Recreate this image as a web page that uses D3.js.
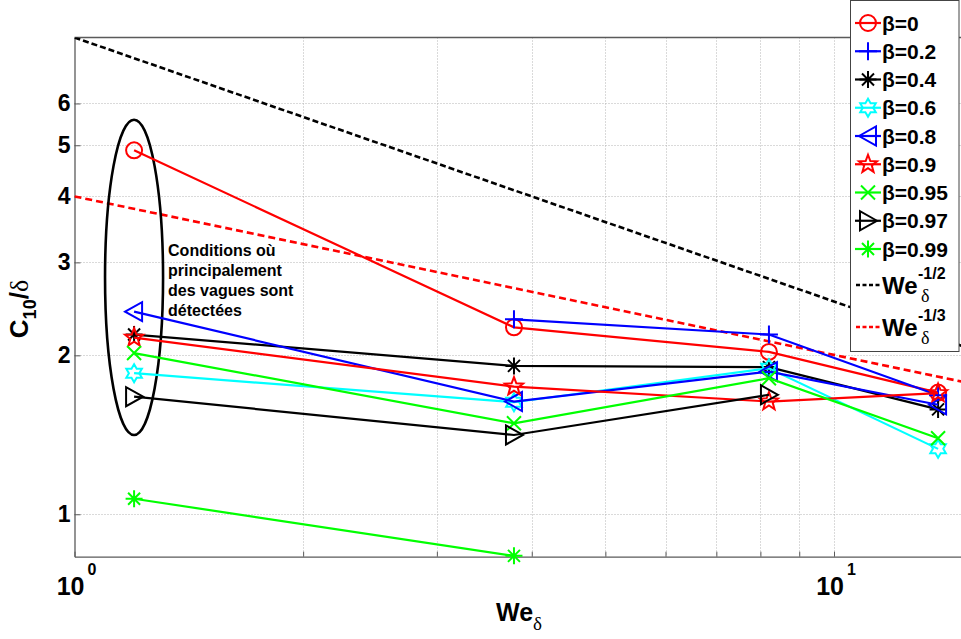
<!DOCTYPE html>
<html><head><meta charset="utf-8">
<script src="https://cdn.jsdelivr.net/npm/d3@7"></script>
<style>
body{margin:0;background:#fff;}
svg{display:block;font-family:"Liberation Sans",Arial,sans-serif;}
</style>
</head><body>
<svg id="chart" width="961" height="639"></svg>
<script>
// ---------------- data ----------------
const weValues = [1.198, 3.79, 8.21, 13.71];
const seriesLabels = ["β=0","β=0.2","β=0.4","β=0.6","β=0.8","β=0.9","β=0.95","β=0.97","β=0.99"];
const beta0    = [4.89, 2.26, 2.03, 1.70];
const beta02   = [null, 2.34, 2.19, 1.68];
const beta04   = [2.19, 1.91, 1.90, 1.58];
const beta06   = [1.85, 1.63, 1.89, 1.33];
const beta08   = [2.42, 1.635, 1.863, 1.612];
const beta09   = [2.16, 1.745, 1.635, 1.696];
const beta095  = [2.02, 1.487, 1.81, 1.393];
const beta097  = [1.67, 1.413, 1.684, null];
const beta099  = [1.07, 0.834, null, null];
const seriesValues = [beta0, beta02, beta04, beta06, beta08, beta09, beta095, beta097, beta099];

const refLabels = [{base:"We", sub:"δ", sup:"-1/2"}, {base:"We", sub:"δ", sup:"-1/3"}];
const refHalfX = [1, 16],  refHalfY = [8, 2.0];
const refThirdX = [1, 16], refThirdY = [4.0, 1.74];

const yTickValues = [1, 2, 3, 4, 5, 6];
const xGridValues = [2, 3, 4, 5, 6, 7, 8, 9, 10];
const xTickLabels = [{v:1, base:"10", exp:"0"}, {v:10, base:"10", exp:"1"}];

const ellipseX = [1.097, 1.308];
const ellipseY = [1.413, 5.59];
const annotationLines = ["Conditions où", "principalement", "des vagues sont", "détectées"];
const annotationAt = {x: 1.328, y: 3.08};

// ---------------- styles ----------------
const seriesColors = ["#ff0000","#0000ff","#000000","#00ffff","#0000ff","#ff0000","#00ff00","#000000","#00ff00"];
const seriesMarkers = ["circle","plus","asterisk","hexagram","triLeft","pentagram","x","triRight","asterisk"];
const refColors = ["#000000", "#ff0000"];

// ---------------- scales ----------------
const L = 74.5, T = 37.5, B = 556.7;
const x = d3.scaleLog().domain([1, 16]).range([L, L + 759.5 * Math.log10(16)]);
const y = d3.scaleLog().domain([0.831, 8]).range([B, T]);
const R = x.range()[1];

const svg = d3.select("#chart");
svg.append("defs").append("clipPath").attr("id","plotclip")
  .append("rect").attr("x", L).attr("y", T).attr("width", R - L).attr("height", B - T);

// grid
const grid = svg.append("g").attr("stroke", "#b4b4b4").attr("stroke-width", 1).attr("stroke-dasharray", "1,2");
grid.selectAll(".gy").data(yTickValues).join("line")
  .attr("x1", L).attr("x2", R).attr("y1", d => Math.round(y(d)) + 0.5).attr("y2", d => Math.round(y(d)) + 0.5);
grid.selectAll(".gx").data(xGridValues).join("line")
  .attr("y1", T).attr("y2", B).attr("x1", d => Math.round(x(d)) + 0.5).attr("x2", d => Math.round(x(d)) + 0.5);

// axes
const axisColor = "#5a5a5a";
const yAxis = svg.append("g").attr("transform", `translate(${L},0)`)
  .call(d3.axisLeft(y).tickValues(yTickValues).tickFormat(d3.format("d")).tickSizeInner(-6).tickSizeOuter(0).tickPadding(4));
yAxis.select(".domain").attr("stroke", axisColor).attr("stroke-width", 1.3);
yAxis.selectAll(".tick line").attr("stroke", axisColor);
yAxis.selectAll(".tick text").attr("font-size", 23).attr("font-weight", "bold").attr("fill", "#000")
  .attr("font-family", "Liberation Sans, Arial, sans-serif");

const xAxis = svg.append("g").attr("transform", `translate(0,${B})`)
  .call(d3.axisBottom(x).tickValues([1, ...xGridValues]).tickFormat("").tickSizeInner(-5).tickSizeOuter(0));
xAxis.select(".domain").attr("stroke", axisColor).attr("stroke-width", 1.3);
xAxis.selectAll(".tick line").attr("stroke", axisColor);

// top border
svg.append("line").attr("x1", L).attr("x2", R).attr("y1", T).attr("y2", T)
  .attr("stroke", axisColor).attr("stroke-width", 1.3);

// x tick labels with exponent
xTickLabels.forEach(t => {
  const g = svg.append("g").attr("font-weight", "bold").attr("fill", "#000");
  g.append("text").attr("x", x(t.v) + 10).attr("y", 595).attr("text-anchor", "end")
    .attr("font-size", 25).text(t.base);
  g.append("text").attr("x", x(t.v) + 13).attr("y", 575).attr("font-size", 16).text(t.exp);
});

// axis titles
const xl = svg.append("text").attr("x", 519).attr("y", 621).attr("text-anchor", "middle")
  .attr("font-size", 25).attr("font-weight", "bold");
xl.append("tspan").text("We");
xl.append("tspan").attr("dy", 9).attr("font-size", 19).attr("font-weight", "normal")
  .attr("font-family", "Liberation Serif, serif").text("δ");

const yl = svg.append("text").attr("transform", "translate(28,309) rotate(-90)")
  .attr("text-anchor", "middle").attr("font-size", 26).attr("font-weight", "bold");
yl.append("tspan").text("C");
yl.append("tspan").attr("dy", 8).attr("font-size", 18).text("10");
yl.append("tspan").attr("dy", -8).text("/");
yl.append("tspan").attr("font-weight", "normal").attr("font-family", "Liberation Serif, serif").text("δ");

// reference lines
const lineGen = d3.line().x(d => x(d[0])).y(d => y(d[1]));
const refG = svg.append("g").attr("clip-path", "url(#plotclip)");
[[refHalfX, refHalfY], [refThirdX, refThirdY]].forEach((r, i) => {
  refG.append("path").attr("d", lineGen(r[0].map((v, k) => [v, r[1][k]])))
    .attr("fill", "none").attr("stroke", refColors[i]).attr("stroke-width", 2.6)
    .attr("stroke-dasharray", i === 0 ? "6,3" : "7,4");
});

// ellipse annotation
svg.append("ellipse")
  .attr("cx", (x(ellipseX[0]) + x(ellipseX[1])) / 2)
  .attr("cy", (y(ellipseY[0]) + y(ellipseY[1])) / 2)
  .attr("rx", (x(ellipseX[1]) - x(ellipseX[0])) / 2)
  .attr("ry", (y(ellipseY[0]) - y(ellipseY[1])) / 2)
  .attr("fill", "none").attr("stroke", "#000").attr("stroke-width", 2.6);

const ann = svg.append("text").attr("x", x(annotationAt.x)).attr("y", y(annotationAt.y))
  .attr("font-size", 16).attr("font-weight", "bold").attr("fill", "#000");
annotationLines.forEach((s, i) => ann.append("tspan").attr("x", x(annotationAt.x)).attr("dy", i === 0 ? 0 : 20).text(s));

// markers
function starPath(n, Ro, Ri, rot) {
  const pts = [];
  for (let k = 0; k < 2 * n; k++) {
    const r = k % 2 === 0 ? Ro : Ri;
    const a = rot + k * Math.PI / n;
    pts.push([r * Math.cos(a), r * Math.sin(a)]);
  }
  return "M" + pts.map(p => p[0].toFixed(2) + "," + p[1].toFixed(2)).join("L") + "Z";
}
function markerPath(type) {
  switch (type) {
    case "circle": return "M8,0A8,8 0 1,1 -8,0A8,8 0 1,1 8,0Z";
    case "plus": return "M-9,0H9M0,-9V9";
    case "x": return "M-7,-7L7,7M-7,7L7,-7";
    case "asterisk": return "M-8.5,0H8.5M0,-8.5V8.5M-6,-6L6,6M-6,6L6,-6";
    case "triLeft": return "M-9,0L8,-9.5L8,9.5Z";
    case "triRight": return "M9,0L-8,-9.5L-8,9.5Z";
    case "pentagram": return starPath(5, 9.5, 4.0, -Math.PI / 2);
    case "hexagram": return starPath(6, 9, 5.2, -Math.PI / 2);
  }
}

// series
seriesValues.forEach((vals, i) => {
  const pts = vals.map((v, k) => [weValues[k], v]).filter(p => p[1] != null);
  const g = svg.append("g");
  g.append("path").attr("d", lineGen(pts)).attr("fill", "none")
    .attr("stroke", seriesColors[i]).attr("stroke-width", 2.2);
  g.selectAll("path.m").data(pts).join("path").attr("class", "m")
    .attr("transform", d => `translate(${x(d[0])},${y(d[1])})`)
    .attr("d", markerPath(seriesMarkers[i]))
    .attr("fill", "none").attr("stroke", seriesColors[i]).attr("stroke-width", 2);
});

// legend
const lg = svg.append("g");
lg.append("rect").attr("x", 850.5).attr("y", 0.5).attr("width", 108.5).attr("height", 351)
  .attr("fill", "#fff").attr("stroke", "#444").attr("stroke-width", 1);
seriesLabels.forEach((lab, i) => {
  const cy = 23 + i * 28.25;
  lg.append("line").attr("x1", 855).attr("x2", 881).attr("y1", cy).attr("y2", cy)
    .attr("stroke", seriesColors[i]).attr("stroke-width", 2.2);
  lg.append("path").attr("transform", `translate(868,${cy})`).attr("d", markerPath(seriesMarkers[i]))
    .attr("fill", "none").attr("stroke", seriesColors[i]).attr("stroke-width", 2);
  lg.append("text").attr("x", 882).attr("y", cy + 7.5).attr("font-size", 21).attr("font-weight", "bold").text(lab);
});
refLabels.forEach((r, i) => {
  const cy = 285 + i * 42;
  lg.append("line").attr("x1", 856).attr("x2", 881).attr("y1", cy).attr("y2", cy)
    .attr("stroke", refColors[i]).attr("stroke-width", 2.6).attr("stroke-dasharray", "4,2.5");
  lg.append("text").attr("x", 882).attr("y", cy + 9).attr("font-size", 24).attr("font-weight", "bold").text(r.base);
  lg.append("text").attr("x", 918).attr("y", cy - 6).attr("font-size", 16).attr("font-weight", "bold").text(r.sup);
  lg.append("text").attr("x", 921).attr("y", cy + 17).attr("font-size", 18)
    .attr("font-family", "Liberation Serif, serif").text(r.sub);
});
</script>
</body></html>
